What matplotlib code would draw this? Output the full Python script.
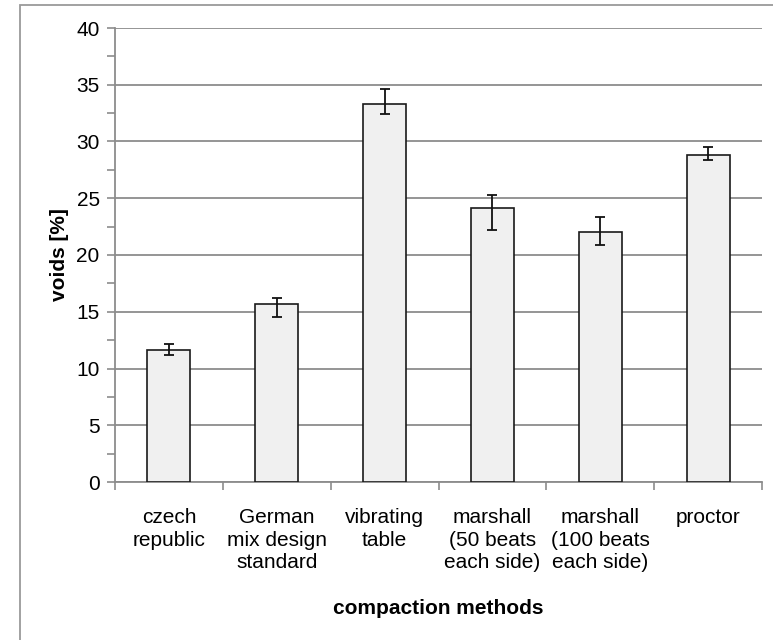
import numpy as np
import matplotlib
matplotlib.use("Agg")
import matplotlib.pyplot as plt
from matplotlib.patches import Rectangle

methods = ["czech\nrepublic", "German\nmix design\nstandard", "vibrating\ntable",
           "marshall\n(50 beats\neach side)", "marshall\n(100 beats\neach side)", "proctor"]
voids = [11.6, 15.7, 33.3, 24.1, 22.0, 28.8]
err_up = [0.6, 0.55, 1.3, 1.2, 1.35, 0.75]
err_down = [0.45, 1.15, 0.9, 1.9, 1.15, 0.4]

plt.rcParams['font.family'] = ['Liberation Sans', 'DejaVu Sans']
FS = 15

fig = plt.figure(figsize=(7.73, 6.4), dpi=100)
W, H = 773, 640

# outer chart frame (runs off the right and bottom edges)
fig.patches.append(Rectangle((20 / W, -0.1), 1.2, 1 - 5 / H + 0.1, transform=fig.transFigure,
                             fill=False, edgecolor="#9a9a9a", linewidth=1.3))

ax = fig.add_axes([115 / W, 1 - 482 / H, (762 - 115) / W, (482 - 28) / H])

x = np.arange(len(voids))
ax.bar(x, voids, width=0.4, color="#f0f0f0", edgecolor="#1a1a1a", linewidth=1.2, zorder=3)
ax.errorbar(x, voids, yerr=[err_down, err_up], fmt="none", ecolor="#111111",
            elinewidth=1.3, capsize=3.5, capthick=1.3, zorder=4)

ax.set_xlim(-0.5, len(voids) - 0.5)
ax.set_ylim(0, 40)
ax.set_yticks(np.arange(0, 41, 5))
ax.set_yticks(np.arange(0, 41, 2.5), minor=True)
ax.yaxis.grid(True, color="#8c8c8c", linewidth=1.3, zorder=0)
ax.set_axisbelow(True)

# tick marks between categories, labels under each bar
ax.set_xticks(np.arange(-0.5, len(voids), 1))
ax.set_xticklabels([])
ax.set_xticks(x, minor=True)
ax.set_xticklabels(methods, minor=True, fontsize=FS, linespacing=1.22, va="top")
ax.tick_params(axis="x", which="major", direction="out", length=6, width=1.2, color="#8c8c8c")
ax.tick_params(axis="x", which="minor", length=0, pad=19)
ax.tick_params(axis="y", which="both", direction="out", length=6, width=1.2,
               color="#8c8c8c", labelsize=FS, pad=5)

for s in ["top", "right"]:
    ax.spines[s].set_visible(False)
for s in ["left", "bottom"]:
    ax.spines[s].set_color("#8c8c8c")
    ax.spines[s].set_linewidth(1.3)

ax.set_ylabel("voids [%]", fontsize=FS, fontweight="bold", labelpad=5)
fig.text((115 + 762) / 2 / W, 1 - 608 / H, "compaction methods", fontsize=FS,
         fontweight="bold", ha="center", va="center")

fig.savefig("out.png", dpi=100)
